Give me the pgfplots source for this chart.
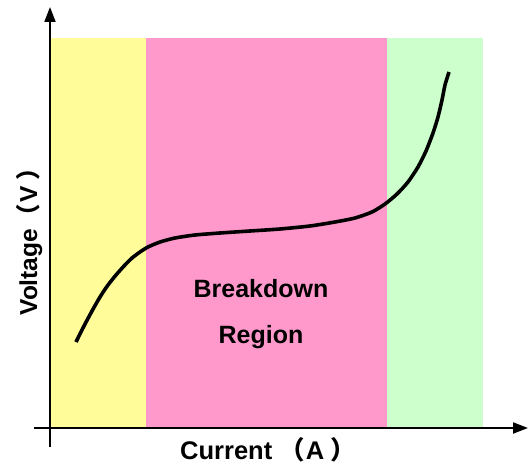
\documentclass[border=0pt]{standalone}
\usepackage{fontspec}
\setmainfont{Liberation Sans}
\newfontfamily\cjk{Noto Sans CJK SC}
\usepackage{pgfplots}
\pgfplotsset{compat=1.18}
\usetikzlibrary{arrows.meta}
\definecolor{ylw}{RGB}{255,252,153}
\definecolor{pnk}{RGB}{255,153,204}
\definecolor{grn}{RGB}{204,255,204}
\begin{document}
\begin{tikzpicture}
\begin{axis}[
  width=529pt, height=466pt, scale only axis,
  xmin=0, xmax=529, ymin=0, ymax=466,
  axis lines=none, clip=false,
]
\addplot[fill=ylw, draw=none] coordinates {(51,38) (146,38) (146,428) (51,428)} -- cycle;
\addplot[fill=pnk, draw=none] coordinates {(146,38) (387,38) (387,428) (146,428)} -- cycle;
\addplot[fill=grn, draw=none] coordinates {(387,38) (483,38) (483,428) (387,428)} -- cycle;
\draw[line width=2pt, -{Triangle[length=15pt,width=11pt]}] (axis cs:34,38) -- (axis cs:528,38);
\draw[line width=2pt, -{Triangle[length=15pt,width=11pt]}] (axis cs:50,19) -- (axis cs:50,459);
\addplot[black, line width=3.6pt, smooth, tension=0.4, line cap=butt] coordinates {
(76,124) (84,140) (92,155) (100,169) (108,181) (116,191) (124,200) (132,208)
(140,214) (148,219) (160,224) (175,228) (195,231) (220,233) (250,235)
(280,237) (310,240) (335,244) (355,248) (372,254) (385,262) (397,272)
(408,284) (418,299) (426,315) (433,333) (438,349) (442,366) (445,381) (449,394)};
\node[font=\fontsize{25}{30}\selectfont\bfseries] at (axis cs:261,177) {Breakdown};
\node[font=\fontsize{25}{30}\selectfont\bfseries] at (axis cs:261,129) {Region};
\node[font=\fontsize{25.5}{30}\selectfont\bfseries, anchor=base] at (axis cs:268,7) {Current {\cjk （}\hspace{1pt}A\hspace{6pt}{\cjk ）}};
\node[font=\fontsize{24.5}{29}\selectfont\bfseries, anchor=base, rotate=90] at (axis cs:37,230) {Voltage{\cjk （}\hspace{2pt}V\hspace{5pt}{\cjk ）}};
\end{axis}
\pgfresetboundingbox
\useasboundingbox (0,0) rectangle (529pt,466pt);
\end{tikzpicture}
\end{document}
